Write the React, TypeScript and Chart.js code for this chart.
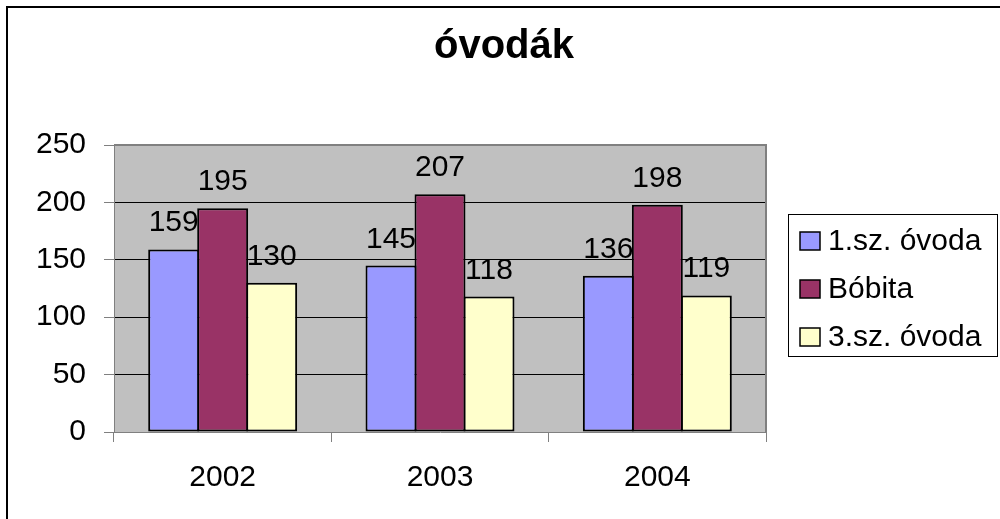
import React, { useEffect, useRef } from 'react';
import { Chart, registerables } from 'chart.js';

Chart.register(...registerables);

const TITLE = 'óvodák';
const categories = ['2002', '2003', '2004'];
const seriesNames = ['1.sz. óvoda', 'Bóbita', '3.sz. óvoda'];
const ovoda1 = [159, 145, 136];
const bobita = [195, 207, 198];
const ovoda3 = [130, 118, 119];
const yMin = 0;
const yMax = 250;
const yStep = 50;
const colors = ['#9999FF', '#993366', '#FFFFCC'];

const FONT = '"Liberation Sans", Arial, sans-serif';
const TEXT_SIZE = 30;
const TITLE_SIZE = 40;

const framePlugin = {
  id: 'frame',
  beforeDraw(chart: any) {
    const { ctx, width, height, chartArea: a } = chart;
    ctx.save();
    ctx.fillStyle = '#ffffff';
    ctx.fillRect(0, 0, width, height);
    ctx.strokeStyle = '#000000';
    ctx.lineWidth = 2;
    ctx.beginPath();
    ctx.moveTo(7, height + 4);
    ctx.lineTo(7, 7);
    ctx.lineTo(width + 4, 7);
    ctx.stroke();
    ctx.fillStyle = '#C0C0C0';
    ctx.fillRect(a.left, a.top, a.right - a.left, a.bottom - a.top);
    ctx.fillStyle = '#000000';
    ctx.font = `bold ${TITLE_SIZE}px ${FONT}`;
    ctx.textAlign = 'center';
    ctx.textBaseline = 'alphabetic';
    ctx.fillText(TITLE, 504, 58);
    ctx.restore();
  },
  beforeDatasetsDraw(chart: any) {
    const { ctx, chartArea: a } = chart;
    ctx.save();
    ctx.strokeStyle = '#808080';
    ctx.lineWidth = 2;
    ctx.beginPath();
    ctx.moveTo(a.left, a.top);
    ctx.lineTo(a.right, a.top);
    ctx.lineTo(a.right, a.bottom);
    ctx.stroke();
    ctx.restore();
  },
  afterDatasetsDraw(chart: any) {
    const { ctx } = chart;
    ctx.save();
    ctx.fillStyle = '#000000';
    ctx.font = `${TEXT_SIZE}px ${FONT}`;
    ctx.textAlign = 'center';
    ctx.textBaseline = 'alphabetic';
    chart.data.datasets.forEach((ds: any, i: number) => {
      const meta = chart.getDatasetMeta(i);
      meta.data.forEach((bar: any, j: number) => {
        ctx.fillText(String(ds.data[j]), bar.x, bar.y - 18);
      });
    });
    ctx.restore();
  },
  afterDraw(chart: any) {
    const { ctx } = chart;
    ctx.save();
    ctx.strokeStyle = '#000000';
    ctx.lineWidth = 1;
    ctx.strokeRect(788.5, 214.5, 209, 142);
    const rows = [241, 289, 337];
    ctx.font = `${TEXT_SIZE}px ${FONT}`;
    ctx.textAlign = 'left';
    ctx.textBaseline = 'middle';
    seriesNames.forEach((name, i) => {
      const cy = rows[i];
      ctx.fillStyle = colors[i];
      ctx.fillRect(800, cy - 9, 20, 18);
      ctx.lineWidth = 1.5;
      ctx.strokeStyle = '#000000';
      ctx.strokeRect(800, cy - 9, 20, 18);
      ctx.fillStyle = '#000000';
      ctx.fillText(name, 828, cy + 1);
    });
    ctx.restore();
  },
};

export default function App() {
  const canvasRef = useRef<HTMLCanvasElement | null>(null);

  useEffect(() => {
    if (!canvasRef.current) return;
    const series = [ovoda1, bobita, ovoda3];
    const chart = new Chart(canvasRef.current, {
      type: 'bar',
      data: {
        labels: categories,
        datasets: series.map((data, i) => ({
          label: seriesNames[i],
          data,
          backgroundColor: colors[i],
          borderColor: '#000000',
          borderWidth: 2,
          borderSkipped: false,
          barPercentage: 1.04,
          categoryPercentage: 0.6764,
        })),
      },
      options: {
        animation: false,
        responsive: true,
        maintainAspectRatio: false,
        devicePixelRatio: 1,
        layout: { padding: { top: 145, right: 234, left: 0, bottom: 0 } },
        plugins: {
          legend: { display: false },
          title: { display: false },
          tooltip: { enabled: false },
        },
        scales: {
          x: {
            grid: {
              offset: true,
              drawOnChartArea: false,
              drawTicks: true,
              tickLength: 10,
              tickColor: '#808080',
              tickWidth: 1,
            },
            border: { color: '#808080', width: 1 },
            ticks: { font: { family: FONT, size: TEXT_SIZE }, color: '#000000', padding: 18 },
            afterFit: (s: any) => {
              s.height = 87;
            },
          },
          y: {
            min: yMin,
            max: yMax,
            ticks: { stepSize: yStep, font: { family: FONT, size: TEXT_SIZE }, color: '#000000', padding: 18 },
            grid: {
              color: (c: any) =>
                c.tick && (c.tick.value === yMax || c.tick.value === yMin) ? 'rgba(0,0,0,0)' : '#000000',
              tickColor: '#808080',
              tickLength: 10,
              lineWidth: 1,
            },
            border: { color: '#808080', width: 1 },
            afterFit: (s: any) => {
              s.width = 114;
            },
          },
        },
      },
      plugins: [framePlugin],
    });
    return () => chart.destroy();
  }, []);

  return (
    <div style={{ position: 'absolute', left: 0, top: 0, width: 1000, height: 519 }}>
      <canvas ref={canvasRef} />
    </div>
  );
}
